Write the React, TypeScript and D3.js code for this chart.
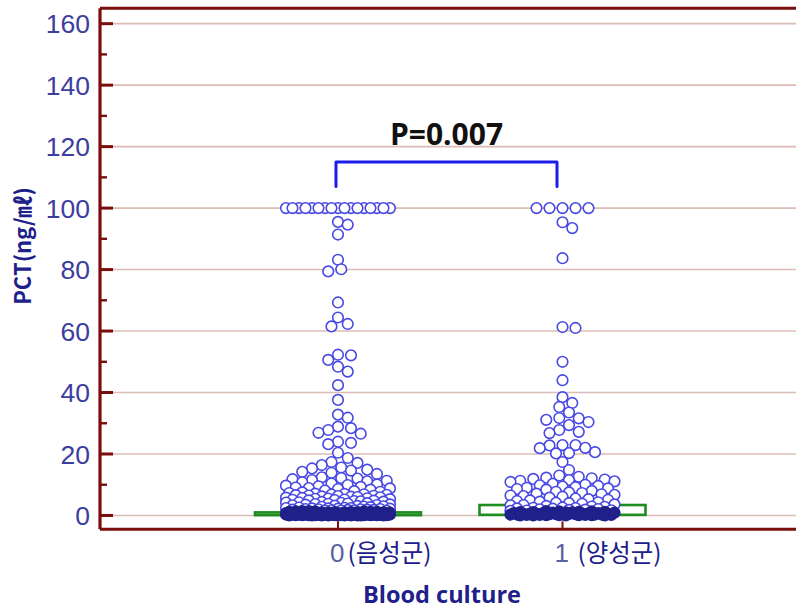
import React from "react";
import { scaleLinear } from "d3";

// categories and labels
const groupCodes = ["0", "1"];
const groupNames = ["(음성군)", " (양성군)"];
const yTicks = [0, 20, 40, 60, 80, 100, 120, 140, 160];
const yMinorTicks = [10, 30, 50, 70, 90, 110, 130, 150];

// PCT values, blood culture negative (0)
const negativeValues = [
  100, 100, 100, 100, 100, 100, 100, 100, 100, 100, 100, 100, 100, 100, 100, 100, 100,
  95.5, 94.6, 91.4, 83.2, 80.1, 79.4, 69.3, 64.4, 62.3, 61.5,
  52.3, 52.1, 50.6, 48.4, 46.8, 42.4, 37.6, 32.8, 31.8,
  28.9, 28.4, 27.8, 26.9, 26.6, 24.0, 23.6, 23.2, 20.4,
  18.7, 17.4, 17.1, 16.4,
  15.6, 15.3, 14.9, 14.6, 14.2, 13.9, 13.5,
  12.4, 12.2, 12.0, 11.8, 11.5, 11.3, 11.1, 10.8,
  10.4, 10.1, 9.9, 9.7, 9.5, 9.3, 9.1, 8.9, 8.8, 8.6, 8.4,
  8.1, 7.9, 7.7, 7.5, 7.3, 7.1, 7.0, 6.9, 6.8, 6.7, 6.6, 6.5, 6.4, 6.3, 6.2, 6.1, 6.0,
  5.9, 5.8, 5.7, 5.6, 5.5, 5.4, 5.3, 5.2, 5.1, 5.0, 4.9, 4.8, 4.7, 4.6, 4.5, 4.4, 4.3, 4.2, 4.1, 4.0,
  3.9, 3.8, 3.7, 3.6, 3.5, 3.4, 3.3, 3.2, 3.1, 3.0, 2.9, 2.8, 2.7, 2.6,
  2.5, 2.4, 2.4, 2.3, 2.3, 2.2, 2.2, 2.1, 2.1, 2.0, 2.0, 1.9, 1.9, 1.8, 1.8, 1.7, 1.7, 1.6, 1.6, 1.5,
  1.4, 1.4, 1.3, 1.3, 1.3, 1.2, 1.2, 1.2, 1.1, 1.1, 1.1, 1.0, 1.0, 1.0, 1.0,
  0.9, 0.9, 0.9, 0.9, 0.8, 0.8, 0.8, 0.8, 0.8, 0.7, 0.7, 0.7, 0.7, 0.7,
  0.6, 0.6, 0.6, 0.6, 0.6, 0.6, 0.5, 0.5, 0.5, 0.5, 0.5, 0.5, 0.5,
  0.4, 0.4, 0.4, 0.4, 0.4, 0.4, 0.4, 0.3, 0.3, 0.3, 0.3, 0.3, 0.3, 0.3, 0.3,
  0.2, 0.2, 0.2, 0.2, 0.2, 0.2, 0.2, 0.2, 0.1, 0.1, 0.1, 0.1, 0.1, 0.1, 0.1, 0.1, 0.1,
  0.05, 0.05, 0.05, 0.05, 0.05, 0.05, 0.05, 0.05, 0.05, 0.05,
];

// PCT values, blood culture positive (1)
const positiveValues = [
  100, 100, 100, 100, 100,
  95.4, 93.5, 83.7, 61.3, 61.0, 50.0, 44.0,
  38.5, 36.6, 35.3, 33.5, 31.7, 31.6, 31.1, 30.4, 29.4, 27.8, 27.2, 26.8,
  22.9, 22.9, 22.8, 22.0, 21.9, 20.6, 20.3, 20.2, 17.4, 14.8,
  13.0, 12.6, 12.3, 12.1, 11.9, 11.7, 11.5, 11.3, 11.1, 10.9,
  10.3, 10.0, 9.8, 9.6, 9.4, 9.2, 9.0, 8.8, 8.6, 8.4,
  8.0, 7.7, 7.5, 7.3, 7.1, 6.9, 6.7, 6.5, 6.3, 6.1,
  5.8, 5.5, 5.3, 5.1, 4.9, 4.7, 4.5, 4.3, 4.1, 4.0,
  3.8, 3.6, 3.4, 3.3, 3.1, 2.9, 2.8, 2.6, 2.5,
  2.4, 2.3, 2.2, 2.1, 2.0, 1.9, 1.8, 1.7, 1.6, 1.5,
  1.4, 1.3, 1.3, 1.2, 1.2, 1.1, 1.1, 1.0, 1.0, 0.9, 0.9, 0.8, 0.8, 0.8, 0.7, 0.7,
  0.6, 0.6, 0.6, 0.5, 0.5, 0.5, 0.4, 0.4, 0.4, 0.3, 0.3, 0.3, 0.3,
  0.2, 0.2, 0.2, 0.2, 0.1, 0.1, 0.1, 0.1, 0.05, 0.05, 0.05, 0.05,
];

// interquartile boxes
const boxQ1 = [0.1, 0.2];
const boxQ3 = [1.0, 3.4];

const pLabel = "P=0.007";
const bracketTop = 115;
const bracketLeg = 107;

const W = 796;
const H = 611;
const axisColor = "#7a0e0e";
const gridColor = "#dcbcb6";
const dotColor = "#4848e4";
const denseColor = "#21218c";
const navy = "#20208a";

// simple beeswarm: nearest free slot to the centre, else the least crowded one
function swarm(values, cx, y) {
  const step = 3.25;
  const minDist = 10;
  const slots = [0];
  for (let k = 1; k <= 16; k++) slots.push(k, -k);
  const placed = [];
  const sorted = [...values].sort((a, b) => b - a);
  for (const v of sorted) {
    const py = y(v);
    let best = cx;
    let bestD = -1;
    for (const k of slots) {
      const px = cx + k * step;
      let d = Infinity;
      for (const p of placed) {
        if (Math.abs(p.y - py) < minDist) {
          d = Math.min(d, Math.hypot(p.x - px, p.y - py));
        }
      }
      if (d >= minDist) {
        best = px;
        break;
      }
      if (d > bestD + 1e-6) {
        bestD = d;
        best = px;
      }
    }
    placed.push({ x: best, y: py, v });
  }
  return placed;
}

export default function App() {
  const y = scaleLinear().domain([-4.5, 165]).range([529.3, 8.3]);
  const x = scaleLinear().domain([-1.06, 2.04]).range([100, 796]);
  const left = 100;
  const bottom = y(-4.5);
  const top = y(165);

  const series = [negativeValues, positiveValues];
  const dots = series.map((vals, i) => swarm(vals, x(i), y));

  const bx0 = x(0) - 2;
  const bx1 = x(1) - 5.5;

  return (
    <svg
      width={W}
      height={H}
      style={{ position: "absolute", left: 0, top: 0, background: "#fff" }}
    >
      {/* grid */}
      {yTicks.map((t) => (
        <line key={`g${t}`} x1={left + 13} x2={W} y1={y(t)} y2={y(t)} stroke={gridColor} strokeWidth={1.6} />
      ))}

      {/* boxes */}
      {groupCodes.map((g, i) => (
        <rect
          key={`box${g}`}
          x={x(i) - 83}
          width={166}
          y={y(boxQ3[i])}
          height={Math.max(1, y(boxQ1[i]) - y(boxQ3[i]))}
          fill="none"
          stroke="#1e8c1e"
          strokeWidth={2.6}
        />
      ))}

      {/* dots */}
      {dots.map((pts, i) =>
        pts.map((p, j) => (
          <circle
            key={`d${i}-${j}`}
            cx={p.x}
            cy={p.y}
            r={5.3}
            fill={p.v < 1.5 ? denseColor : "#fff"}
            stroke={p.v < 1.5 ? denseColor : dotColor}
            strokeWidth={1.6}
          />
        ))
      )}

      {/* axes */}
      <line x1={left} x2={W} y1={top} y2={top} stroke={axisColor} strokeWidth={3} />
      <line x1={left} x2={W} y1={bottom} y2={bottom} stroke={axisColor} strokeWidth={3} />
      <line x1={left} x2={left} y1={top} y2={bottom} stroke={axisColor} strokeWidth={3.2} />
      {yTicks.map((t) => (
        <g key={`t${t}`}>
          <line x1={left} x2={left + 13} y1={y(t)} y2={y(t)} stroke={axisColor} strokeWidth={3} />
          <text
            x={90}
            y={y(t)}
            dy="0.36em"
            textAnchor="end"
            fontFamily="'Liberation Sans', Arial, sans-serif"
            fontSize={26.5}
            fill="#3d3d9e"
          >
            {t}
          </text>
        </g>
      ))}
      {yMinorTicks.map((t) => (
        <line key={`m${t}`} x1={left} x2={left + 7} y1={y(t)} y2={y(t)} stroke={axisColor} strokeWidth={2.4} />
      ))}
      {groupCodes.map((g, i) => (
        <g key={`x${g}`}>
          <line x1={x(i)} x2={x(i)} y1={bottom} y2={bottom - 8} stroke={axisColor} strokeWidth={2} />
          <text x={x(i) - 8} y={562} fontSize={26} fontFamily="'Liberation Sans', Arial, sans-serif">
            <tspan fill="#5a62a2">{g}</tspan>
            <tspan fill={navy} fontFamily="'Noto Sans CJK KR', sans-serif" fontSize={24.5} dx={3}>
              {groupNames[i]}
            </tspan>
          </text>
        </g>
      ))}

      {/* axis titles */}
      <text
        x={442}
        y={603}
        textAnchor="middle"
        fontFamily="'Open Sans', sans-serif"
        fontWeight="bold"
        fontSize={23.5}
        fill={navy}
      >
        Blood culture
      </text>
      <text
        transform={`translate(31, 246) rotate(-90)`}
        textAnchor="middle"
        fontFamily="'Noto Sans CJK KR', sans-serif"
        fontWeight="bold"
        fontSize={22}
        fill={navy}
      >
        PCT(ng/㎖)
      </text>

      {/* significance bracket */}
      <path
        d={`M${bx0},${y(bracketLeg)} V${y(bracketTop)} H${bx1} V${y(bracketLeg)}`}
        fill="none"
        stroke="#1c1ce8"
        strokeWidth={3}
        strokeLinejoin="round"
        strokeLinecap="round"
      />
      <text
        x={(bx0 + bx1) / 2}
        y={y(bracketTop) - 17}
        textAnchor="middle"
        fontFamily="'Open Sans', sans-serif"
        fontWeight="bold"
        fontSize={30}
        fill="#111"
      >
        {pLabel}
      </text>
    </svg>
  );
}
